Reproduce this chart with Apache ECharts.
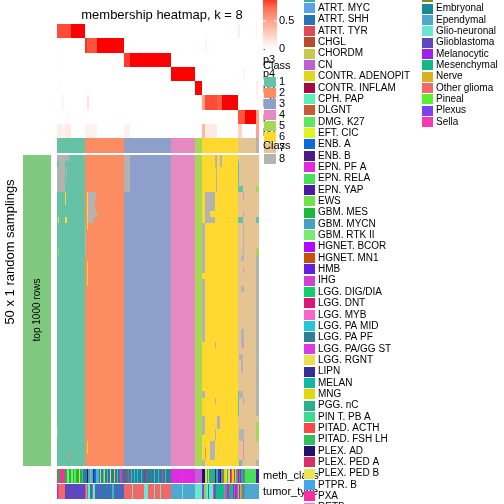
<!DOCTYPE html>
<html><head><meta charset="utf-8">
<script src="https://cdn.jsdelivr.net/npm/echarts/dist/echarts.min.js"></script>
<style>html,body{margin:0;padding:0;background:#fff}#c{width:504px;height:504px}</style>
</head><body><div id="c"></div>
<script>
// ---------------- data ----------------
const classCounts = [28, 39, 47, 24, 7, 36, 18, 3];          // columns per consensus class
const classNames = ['1','2','3','4','5','6','7','8'];
const classColors = ['#66c2a5','#fc8d62','#8da0cb','#e78ac3','#a6d854','#ffd92f','#e5c494','#b3b3b3'];
const rowLabels = ['p1','p2','p3','p4','p5','p6','p7','p8'];
// membership segments per row: [fromCol, toCol, probability]
const membershipRows = [
  [[0,13,0.82],[14,27,1],[181,182,0.1],[199,199,0.08]],
  [[28,29,0.88],[30,39,0.8],[40,66,1],[148,149,0.05]],
  [[3,3,0.03],[67,72,0.86],[73,113,1]],
  [[114,137,1],[186,187,0.05]],
  [[1,1,0.03],[138,144,1],[199,200,0.1]],
  [[4,6,0.05],[30,31,0.15],[145,147,0.5],[148,159,0.82],[160,164,0.78],[165,180,1]],
  [[10,11,0.03],[181,187,0.8],[188,198,1],[199,201,0.5]],
  [[0,4,0.1],[5,7,0.05],[8,13,0.12],[28,39,0.08],[67,72,0.08],[145,147,0.4],[148,159,0.12],[181,184,0.25],[199,201,0.5]]
];
const nSamplings = 50;
// deviations of the 50 random samplings from the consensus class: [rowFrom,rowTo,colFrom,colTo,class]
const samplingOverrides = [
  [0,0,0,11,8],[1,1,2,7,8],[2,5,0,7,8],[2,3,9,9,8],
  [6,7,8,8,6],[10,10,1,1,6],[10,10,8,9,6],[15,15,1,1,5],[44,44,0,0,5],[48,48,11,11,2],
  [6,6,31,38,8],[7,8,31,37,8],[9,9,31,39,8],[10,10,31,36,8],
  [6,11,30,30,6],[17,20,30,30,6],[46,47,30,30,6],[11,15,28,28,8],
  [0,5,67,72,8],
  [0,1,158,159,8],[0,1,163,164,8],[2,5,159,159,8],
  [6,8,148,157,8],[9,9,148,152,8],[10,10,148,157,8],
  [11,18,145,147,8],[20,29,145,147,8],[38,38,145,147,8],[42,44,145,147,8],[49,49,145,147,8],
  [30,30,158,158,8],[39,39,158,158,8],[42,43,160,162,8],[44,45,158,158,8],[46,48,153,157,8],[47,48,148,148,2],
  [1,5,181,181,1],[5,5,181,185,1],[10,10,181,185,1],
  [6,6,186,186,4],[9,9,186,186,4],[18,18,186,186,4],[30,30,186,186,4],[39,39,186,186,4],[46,48,186,186,4],
  [11,16,186,186,8],[16,16,184,186,8],[21,21,184,186,8],[28,29,184,186,8],[30,30,184,185,8],[32,32,182,185,8],[33,34,184,185,8],
  [38,41,181,181,1],[38,38,182,185,8],[44,45,182,186,8],[49,49,182,183,1],[49,49,184,185,8],
  [0,15,199,201,7],[5,5,199,201,5],[10,10,199,201,1],[15,15,199,201,5],[42,42,199,201,7],[43,45,199,201,5],[46,48,199,201,7]
];
const methClasses = ['ANA PA','ATRT. MYC','ATRT. SHH','ATRT. TYR','CHGL','CHORDM','CN','CONTR. ADENOPIT','CONTR. INFLAM','CPH. PAP','DLGNT','DMG. K27','EFT. CIC','ENB. A','ENB. B','EPN. PF A','EPN. RELA','EPN. YAP','EWS','GBM. MES','GBM. MYCN','GBM. RTK II','HGNET. BCOR','HGNET. MN1','HMB','IHG','LGG. DIG/DIA','LGG. DNT','LGG. MYB','LGG. PA MID','LGG. PA PF','LGG. PA/GG ST','LGG. RGNT','LIPN','MELAN','MNG','PGG. nC','PIN T. PB A','PITAD. ACTH','PITAD. FSH LH','PLEX. AD','PLEX. PED A','PLEX. PED B','PTPR. B','PXA','RETB'];
const methColors = ['#3bb0a0','#5ba3e6','#2a72b6','#dc4a58','#b84c2a','#c8c84c','#c05ed8','#e2d61c','#a60a40','#56f0b8','#c85a36','#5ce85a','#e0f222','#0a6cd8','#4a1a86','#e02ae2','#48e05a','#4a1aa2','#70e24a','#1cb83a','#42a2c0','#78ea6e','#b00cfa','#c85008','#6220e0','#d240d8','#10d06e','#d81878','#fa66c8','#22c8d8','#2e7e98','#da3ae6','#e8e04c','#382c98','#10b8a6','#e0d808','#28b08e','#40d88e','#fa4848','#30c060','#22106a','#d83068','#e8e84e','#40a8e8','#fa2ea0','#ee80d0'];
const methRuns = [
  ['PXA',1],['GBM. MES',2],['PXA',5],['GBM. MES',2],['GBM. RTK II',2],['GBM. MES',2],['GBM. RTK II',2],['GBM. MES',1],['DMG. K27',2],['GBM. MES',3],['EFT. CIC',1],['GBM. MES',2],['ATRT. MYC',1],['LGG. PA PF',2],
  ['LGG. PA PF',2],['PLEX. AD',1],['GBM. MYCN',2],['EWS',1],['ATRT. MYC',2],['ENB. B',1],['ENB. A',2],['LGG. PA MID',1],['ATRT. MYC',2],['LGG. PA PF',1],['CONTR. ADENOPIT',1],['LGG. PA PF',2],['LGG. PA MID',1],['MNG',1],['LGG. PA PF',2],['LGG. PA MID',1],['ATRT. SHH',2],['LGG. RGNT',1],['LGG. PA PF',2],['ATRT. SHH',1],['CONTR. ADENOPIT',1],['LGG. PA PF',2],['LGG. PA MID',1],['LGG. PA PF',2],['LGG. PA/GG ST',1],['PXA',1],['LGG. PA PF',2],
  ['LGG. DNT',1],['LGG. PA PF',3],['ATRT. TYR',1],['LGG. PA PF',2],['LGG. PA MID',1],['LGG. PA PF',2],['LGG. PA MID',1],['LGG. PA PF',2],['LGG. PA MID',1],['LGG. PA PF',3],['LGG. PA MID',1],['LGG. PA PF',2],['LGG. DNT',1],['LGG. PA PF',9],['LGG. PA MID',1],['LGG. PA PF',3],['LGG. PA MID',1],['LGG. PA PF',3],['PXA',1],['LGG. PA PF',2],['LGG. PA MID',1],['LGG. PA PF',5],
  ['EPN. PF A',11],['LGG. PA/GG ST',1],['EPN. PF A',12],
  ['CN',7],
  ['PLEX. AD',3],['MNG',1],['LGG. RGNT',1],['PGG. nC',1],['CONTR. ADENOPIT',1],['PGG. nC',6],['ENB. B',1],['PGG. nC',2],['HMB',2],['PLEX. AD',1],['MELAN',1],['GBM. MES',1],['PITAD. ACTH',1],['CONTR. ADENOPIT',2],['EFT. CIC',1],['PGG. nC',1],['LGG. RGNT',2],['HGNET. BCOR',1],['PITAD. ACTH',1],['MNG',2],['PLEX. PED A',1],['CONTR. ADENOPIT',1],['PGG. nC',2],
  ['HGNET. BCOR',1],['PITAD. ACTH',1],['ENB. A',1],['MELAN',2],['PXA',1],['GBM. MES',1],['EPN. RELA',11],
  ['EPN. YAP',3]
];
const tumorTypes = ['Control','Embryonal','Ependymal','Glio-neuronal','Glioblastoma','Melanocytic','Mesenchymal','Nerve','Other glioma','Pineal','Plexus','Sella'];
const tumorColors = ['#7a8c22','#1a8898','#50a8ce','#68e8d2','#5e48c0','#a020f0','#12b888','#d8b020','#f26868','#58f032','#8040f2','#f83ab0'];
const tumorRuns = [
  ['Plexus',1],['Sella',1],['Other glioma',6],['Glioblastoma',20],
  ['Sella',1],['Pineal',1],['Sella',1],['Glio-neuronal',2],['Embryonal',2],['Sella',1],['Glio-neuronal',2],['Embryonal',3],['Plexus',2],['Embryonal',3],['Plexus',1],['Embryonal',3],['Plexus',2],['Embryonal',3],['Ependymal',2],['Embryonal',2],['Plexus',2],['Embryonal',3],['Plexus',2],['Embryonal',1],
  ['Other glioma',8],['Glio-neuronal',1],['Other glioma',11],['Glio-neuronal',4],['Other glioma',6],['Glio-neuronal',1],['Other glioma',5],['Glio-neuronal',1],['Other glioma',10],
  ['Ependymal',11],['Glio-neuronal',1],['Ependymal',12],
  ['Glio-neuronal',7],
  ['Plexus',2],['Nerve',1],['Pineal',1],['Glio-neuronal',2],['Embryonal',1],['Glio-neuronal',4],['Sella',1],['Plexus',1],['Embryonal',1],['Mesenchymal',8],['Ependymal',1],['Sella',2],['Embryonal',2],['Sella',1],['Mesenchymal',3],['Plexus',1],['Sella',1],['Melanocytic',1],['Embryonal',1],['Sella',1],
  ['Nerve',1],['Plexus',1],['Pineal',1],['Other glioma',1],['Sella',1],['Mesenchymal',2],['Ependymal',11],
  ['Ependymal',3]
];
const samplingGroups = ['top 1000 rows'];
const legendTicks = ['0.5', '0'];
const membershipColors = ['#ffffff','#ffd3c6','#ffa28a','#ff6a4e','#ff0000'];

// ---------------- build ----------------
const FONT = '"Liberation Sans", Arial, Helvetica, sans-serif';
const colClass = [];
classCounts.forEach((n, k) => { for (let i = 0; i < n; i++) colClass.push(k + 1); });
const nCols = colClass.length;
const colIdx = colClass.map((_, i) => String(i));

const membData = [];
membershipRows.forEach((segs, r) => {
  const vals = new Array(nCols).fill(0);
  segs.forEach(([a, b, v]) => { for (let c = a; c <= b; c++) vals[c] = v; });
  vals.forEach((v, c) => membData.push([c, r, v]));
});
const classData = colClass.map((k, c) => [c, 0, k]);

const grid = [];
for (let r = 0; r < nSamplings; r++) grid.push(colClass.slice());
samplingOverrides.forEach(([r0, r1, c0, c1, k]) => {
  for (let r = r0; r <= r1; r++) for (let c = c0; c <= c1; c++) grid[r][c] = k;
});
const mainData = [];
grid.forEach((row, r) => row.forEach((k, c) => mainData.push([c, r, k])));

function expandRuns(runs, names) {
  const out = [];
  runs.forEach(([name, n]) => { const i = names.indexOf(name); for (let j = 0; j < n; j++) out.push([out.length, 0, i]); });
  return out;
}
const methData = expandRuns(methRuns, methClasses);
const tumorData = expandRuns(tumorRuns, tumorTypes);

function cellRender(colorFn) {
  return function (params, api) {
    const p = api.coord([api.value(0), api.value(1)]);
    const s = api.size([1, 1]);
    const x0 = Math.round(p[0] - s[0] / 2), x1 = Math.round(p[0] + s[0] / 2);
    const y0 = Math.round(p[1] - s[1] / 2), y1 = Math.round(p[1] + s[1] / 2);
    return { type: 'rect', shape: { x: x0, y: y0, width: x1 - x0, height: y1 - y0 }, style: { fill: colorFn(api) } };
  };
}
function cs(gi, data, colorFn) {
  return { type: 'custom', xAxisIndex: gi, yAxisIndex: gi, data: data, encode: { x: 0, y: 1 },
    renderItem: cellRender(colorFn), progressive: 0, animation: false, silent: true };
}
const gridBoxes = [
  { left: 57, top: 24, width: 202, height: 114 },
  { left: 57, top: 138, width: 202, height: 15 },
  { left: 57, top: 155, width: 202, height: 311 },
  { left: 57, top: 469, width: 202, height: 14 },
  { left: 57, top: 484, width: 202, height: 15 },
  { left: 23, top: 155, width: 28, height: 311 }
];
const hidden = { show: false };
function xAx(gi, data) { return { type: 'category', gridIndex: gi, data: data, show: false }; }
function yAx(gi, data, showLab, z) {
  return { type: 'category', gridIndex: gi, data: data, inverse: true, position: 'right', z: z || 0,
    axisLine: hidden, axisTick: hidden, splitLine: hidden,
    axisLabel: { show: showLab, interval: 0, color: '#000', fontSize: 11, fontFamily: FONT, margin: 4 } };
}
const rows50 = Array.from({ length: nSamplings }, (_, i) => String(i));

// legends
const LZ = 5, TZ = 30;
const g = [];
g.push({ type: 'rect', z: LZ, shape: { x: 263, y: -7, width: 14, height: 56 },
  style: { fill: new echarts.graphic.LinearGradient(0, 1, 0, 0,
    membershipColors.map((c, i) => ({ offset: i / (membershipColors.length - 1), color: c }))) } });
g.push({ type: 'line', z: LZ, shape: { x1: 263, y1: 21, x2: 266, y2: 21 }, style: { stroke: '#fff', lineWidth: 1 } });
g.push({ type: 'line', z: LZ, shape: { x1: 274, y1: 21, x2: 277, y2: 21 }, style: { stroke: '#fff', lineWidth: 1 } });
const tickY = [21, 49];
legendTicks.forEach((t, i) => g.push({ type: 'text', z: LZ, x: 279, y: tickY[i],
  style: { text: t, fill: '#000', fontSize: 11, fontFamily: FONT, textVerticalAlign: 'middle', verticalAlign: 'middle' } }));
g.push({ type: 'text', z: LZ, x: 263, y: 66, style: { text: 'Class', fill: '#000', fontSize: 11, fontFamily: FONT, verticalAlign: 'middle', textVerticalAlign: 'middle' } });
classNames.forEach((n, i) => {
  const cy = 82 + 11 * i;
  g.push({ type: 'rect', z: LZ, shape: { x: 264, y: cy - 5, width: 12, height: 10 }, style: { fill: classColors[i] } });
  g.push({ type: 'text', z: LZ, x: 279, y: cy, style: { text: n, fill: '#000', fontSize: 11, fontFamily: FONT, verticalAlign: 'middle', textVerticalAlign: 'middle' } });
});
const STEP = 11.35;
methClasses.forEach((n, i) => {
  const cy = -3.05 + STEP * i;
  g.push({ type: 'rect', z: LZ, shape: { x: 304, y: Math.round(cy - 5), width: 11, height: 10 }, style: { fill: methColors[i] } });
  g.push({ type: 'text', z: LZ, x: 318, y: cy, style: { text: n, fill: '#000', fontSize: 10, fontFamily: FONT, verticalAlign: 'middle', textVerticalAlign: 'middle' } });
});
tumorTypes.forEach((n, i) => {
  const cy = -2.8 + STEP * i;
  g.push({ type: 'rect', z: LZ, shape: { x: 422, y: Math.round(cy - 5), width: 11, height: 10 }, style: { fill: tumorColors[i] } });
  g.push({ type: 'text', z: LZ, x: 436, y: cy, style: { text: n, fill: '#000', fontSize: 10, fontFamily: FONT, verticalAlign: 'middle', textVerticalAlign: 'middle' } });
});
g.push({ type: 'text', z: TZ, x: 37, y: 310, rotation: Math.PI / 2,
  style: { text: samplingGroups[0], fill: '#000', fontSize: 10, fontFamily: FONT, align: 'center', textAlign: 'center', verticalAlign: 'middle', textVerticalAlign: 'middle' } });
g.push({ type: 'text', z: TZ, x: 10, y: 252, rotation: Math.PI / 2,
  style: { text: '50 x 1 random samplings', fill: '#000', fontSize: 13, fontFamily: FONT, align: 'center', textAlign: 'center', verticalAlign: 'middle', textVerticalAlign: 'middle' } });

const chart = echarts.init(document.getElementById('c'), null, { renderer: 'canvas' });
chart.setOption({
  animation: false,
  backgroundColor: '#fff',
  title: { text: 'membership heatmap, k = 8', left: 157, top: 4, textAlign: 'center',
    textStyle: { fontSize: 13, fontWeight: 'normal', color: '#000', fontFamily: FONT } },
  grid: gridBoxes.map(b => Object.assign({ containLabel: false, outerBoundsMode: 'none' }, b)),
  xAxis: [xAx(0, colIdx), xAx(1, colIdx), xAx(2, colIdx), xAx(3, colIdx), xAx(4, colIdx), xAx(5, ['g'])],
  yAxis: [yAx(0, rowLabels, true), yAx(1, ['Class'], true, 20), yAx(2, rows50, false),
          yAx(3, ['meth_class'], true), yAx(4, ['tumor_type'], true), yAx(5, samplingGroups, false)],
  visualMap: [{ show: false, type: 'continuous', seriesIndex: 0, dimension: 2, min: 0, max: 1,
    inRange: { color: membershipColors } }],
  graphic: { elements: g },
  series: [
    cs(0, membData, api => api.visual('color')),
    cs(1, classData, api => classColors[api.value(2) - 1]),
    cs(2, mainData, api => classColors[api.value(2) - 1]),
    cs(3, methData, api => methColors[api.value(2)]),
    cs(4, tumorData, api => tumorColors[api.value(2)]),
    cs(5, [[0, 0, 1]], () => '#7fc97f')
  ]
});
</script></body></html>
